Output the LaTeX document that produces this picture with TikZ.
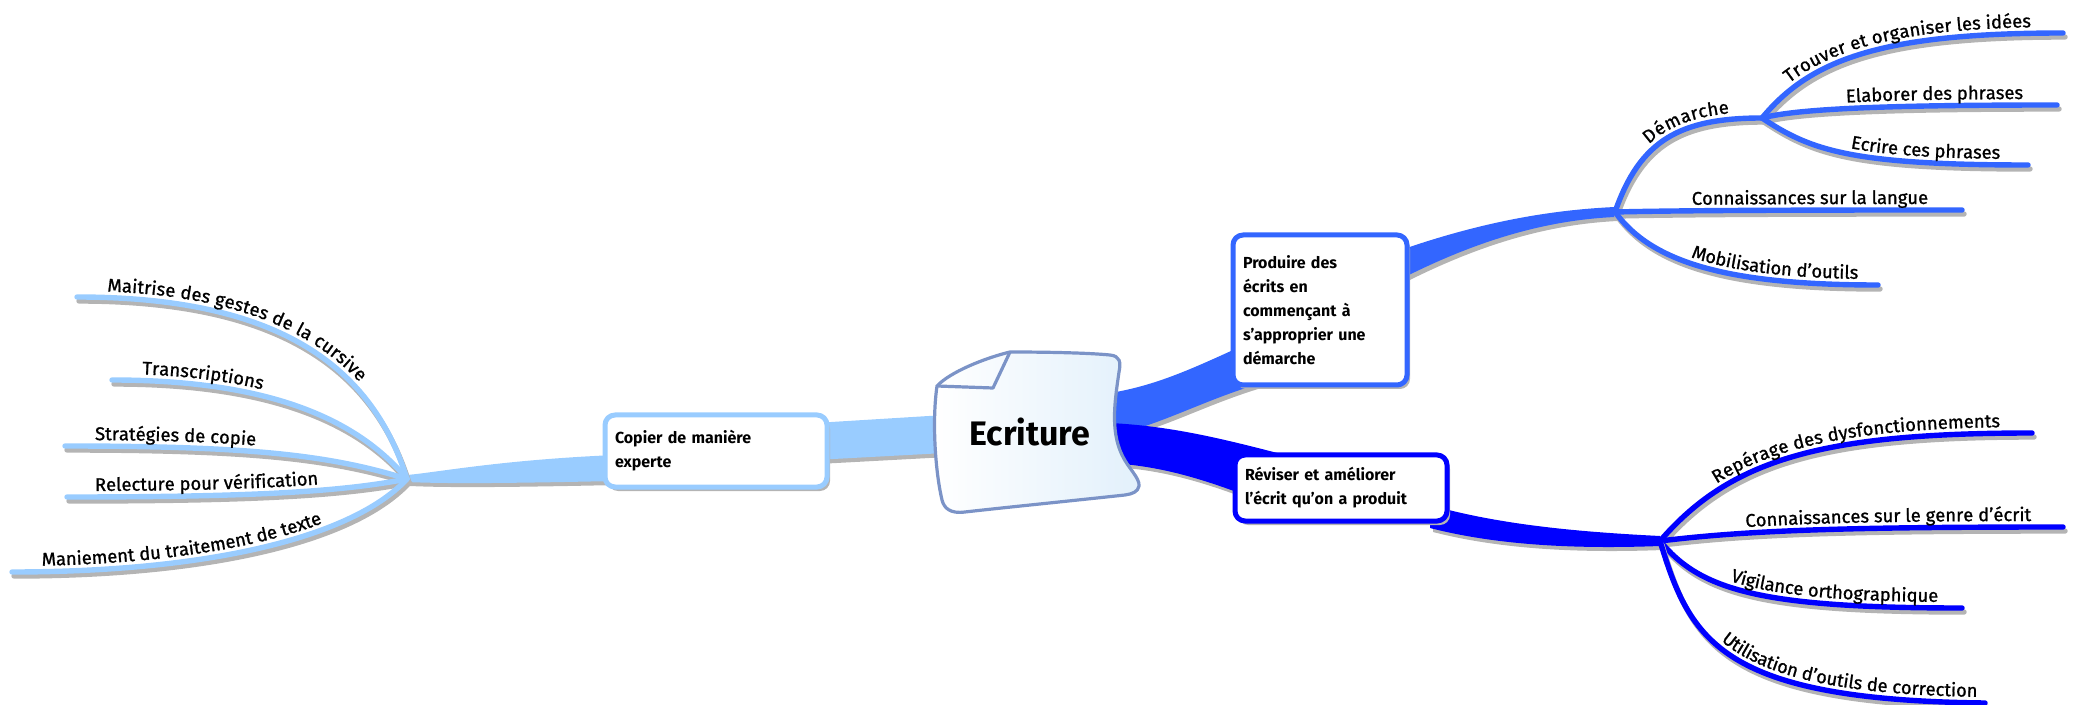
\documentclass[tikz,border=0pt]{standalone}
\usepackage{fontspec}
\setmainfont{Fira Sans}
\usetikzlibrary{decorations.text,shadows}
\definecolor{pale}{HTML}{99CCFF}
\definecolor{mid}{HTML}{3366FF}
\definecolor{deep}{HTML}{0000FF}
\definecolor{shade}{HTML}{B4B4B4}
\definecolor{paperedge}{HTML}{7B93C7}
\definecolor{paperfill}{HTML}{E2F0FB}
\newcommand{\lbl}{\fontsize{9.2}{10}\selectfont\addfontfeature{FakeBold=1}}
\newcommand{\boxfont}{\fontsize{8}{12}\selectfont\bfseries}

\begin{document}
\begin{tikzpicture}[x=0.5pt,y=-0.5pt]
	\tikzstyle{band} = [preaction={fill=shade,transform canvas={shift={(1.5pt,-2pt)}}}]
	\tikzstyle{twig} = [line width=2.7pt,line cap=round,preaction={draw=shade,line width=2.7pt,line cap=round,transform canvas={shift={(1pt,-2pt)}}}]
	\tikzstyle{topic} = [draw,line width=2.5pt,rounded corners=5pt,fill=white,align=left,inner sep=5pt,font=\boxfont,drop shadow={shadow xshift=1.5pt,shadow yshift=-2pt,fill=shade,opacity=1}]
	\tikzset{
		lbl left/.style 2 args={postaction={decorate,decoration={text along path,text={|\lbl|#1},text color=black,raise=3pt,text align={left,left indent=#2}}}},
		lbl right/.style 2 args={postaction={decorate,decoration={text along path,text={|\lbl|#1},text color=black,raise=3pt,text align={right,right indent=#2}}}}
	}
	\useasboundingbox (0,0) rectangle (2077,705);

	% forks and branch ends
	\coordinate (fL) at (407,479);
	\coordinate (fT) at (1615,212);
	\coordinate (fD) at (1762,118);
	\coordinate (fB) at (1660,541);
	\coordinate (l1) at (77,297);
	\coordinate (l2) at (112,380);
	\coordinate (l3) at (65,446);
	\coordinate (l4) at (67,497);
	\coordinate (l5) at (12,572);
	\coordinate (t1) at (2063,33);
	\coordinate (t2) at (2057,105);
	\coordinate (t3) at (2028,165);
	\coordinate (t4) at (1962,210);
	\coordinate (t5) at (1878,285);
	\coordinate (b1) at (2032,433);
	\coordinate (b2) at (2063,527);
	\coordinate (b3) at (1962,608);
	\coordinate (b4) at (1985,703);

	% thick bands
	\fill[pale,band] (945,415) -- (815,423) -- (815,460) -- (945,453) -- cycle;
	\fill[pale,band] (615,455) .. controls (500,460) and (440,472) .. ([yshift=2pt]fL) -- ([yshift=-1.5pt]fL) .. controls (450,484) and (520,483) .. (615,481) -- cycle;
	\fill[mid,band] (1110,393) .. controls (1160,385) and (1200,365) .. (1255,340) -- (1255,385) .. controls (1200,402) and (1160,425) .. (1110,436) -- cycle;
	\fill[mid,band] (1395,252) .. controls (1480,222) and (1550,210) .. ([yshift=2.5pt]fT) -- ([yshift=-2.5pt]fT) .. controls (1550,220) and (1480,238) .. (1395,282) -- cycle;
	\fill[deep,band] (1110,423) .. controls (1170,426) and (1220,438) .. (1285,455) -- (1250,497) .. controls (1200,478) and (1160,466) .. (1110,463) -- cycle;
	\fill[deep,band] (1430,505) .. controls (1500,525) and (1580,532) .. ([yshift=2.5pt]fB) -- ([yshift=-2.5pt]fB) .. controls (1580,549) and (1500,546) .. (1430,528) -- cycle;

	% left twigs
	\draw[twig,pale,lbl left={Maitrise des gestes de la cursive}{15pt}] (l1) .. controls (270,297) and (370,360) .. (fL);
	\draw[twig,pale,lbl left={Transcriptions}{15pt}] (l2) .. controls (250,380) and (350,410) .. (fL);
	\draw[twig,pale,lbl left={Stratégies de copie}{15pt}] (l3) .. controls (250,446) and (330,455) .. (fL);
	\draw[twig,pale,lbl left={Relecture pour vérification}{14pt}] (l4) .. controls (250,497) and (340,492) .. (fL);
	\draw[twig,pale,lbl left={Maniement du traitement de texte}{15pt}] (l5) .. controls (200,572) and (350,540) .. (fL);

	% top right twigs
	\draw[twig,mid,lbl right={Démarche}{16pt}] (fT) .. controls (1640,140) and (1680,118) .. (fD);
	\draw[twig,mid,lbl right={Trouver et organiser les idées}{16pt}] (fD) .. controls (1810,60) and (1880,33) .. (t1);
	\draw[twig,mid,lbl right={Elaborer des phrases}{17pt}] (fD) .. controls (1800,108) and (1900,105) .. (t2);
	\draw[twig,mid,lbl right={Ecrire ces phrases}{14pt}] (fD) .. controls (1810,150) and (1850,165) .. (t3);
	\draw[twig,mid,lbl right={Connaissances sur la langue}{17pt}] (fT) .. controls (1700,210) and (1850,210) .. (t4);
	\draw[twig,mid,lbl right={Mobilisation d'outils}{10pt}] (fT) .. controls (1650,260) and (1720,285) .. (t5);

	% bottom right twigs
	\draw[twig,deep,lbl right={Repérage des dysfonctionnements}{16pt}] (fB) .. controls (1730,460) and (1820,433) .. (b1);
	\draw[twig,deep,lbl right={Connaissances sur le genre d'écrit}{16pt}] (fB) .. controls (1750,530) and (1850,527) .. (b2);
	\draw[twig,deep,lbl right={Vigilance orthographique}{12pt}] (fB) .. controls (1700,590) and (1760,608) .. (b3);
	\draw[twig,deep,lbl right={Utilisation d'outils de correction}{4pt}] (fB) .. controls (1690,640) and (1720,700) .. (b4);

	% central sheet
	\draw[line width=1.6pt,draw=paperedge,left color=white,right color=paperfill] (1010,352) .. controls (1050,352) and (1090,353) .. (1110,355) .. controls (1120,356) and (1121,362) .. (1119,372) .. controls (1115,400) and (1110,430) .. (1122,455) .. controls (1128,468) and (1140,478) .. (1139,486) .. controls (1138,492) and (1132,494) .. (1125,495) .. controls (1060,502) and (1000,508) .. (965,512) .. controls (950,514) and (944,508) .. (942,500) .. controls (935,470) and (932,420) .. (937,386) .. controls (950,372) and (985,358) .. (1010,352) -- cycle;
	\draw[line width=1.6pt,draw=paperedge,line join=round] (1010,352) -- (993,388) -- (937,386);
	\node (ecr) at (1030,432) {\fontsize{17}{20}\selectfont\bfseries Ecriture};

	% topics
	\node[topic,draw=mid,text width=77pt,minimum height=75pt] (prod) at (1320,310) {Produire des\\écrits en\\commençant à\\s'approprier une\\démarche};
	\node[topic,draw=deep,text width=96pt,minimum height=33pt] (rev) at (1341,488) {Réviser et améliorer\\l'écrit qu'on a produit};
	\node[topic,draw=pale,text width=101pt,minimum height=36pt] (cop) at (716,451) {Copier de manière\\experte};
\end{tikzpicture}
\end{document}
